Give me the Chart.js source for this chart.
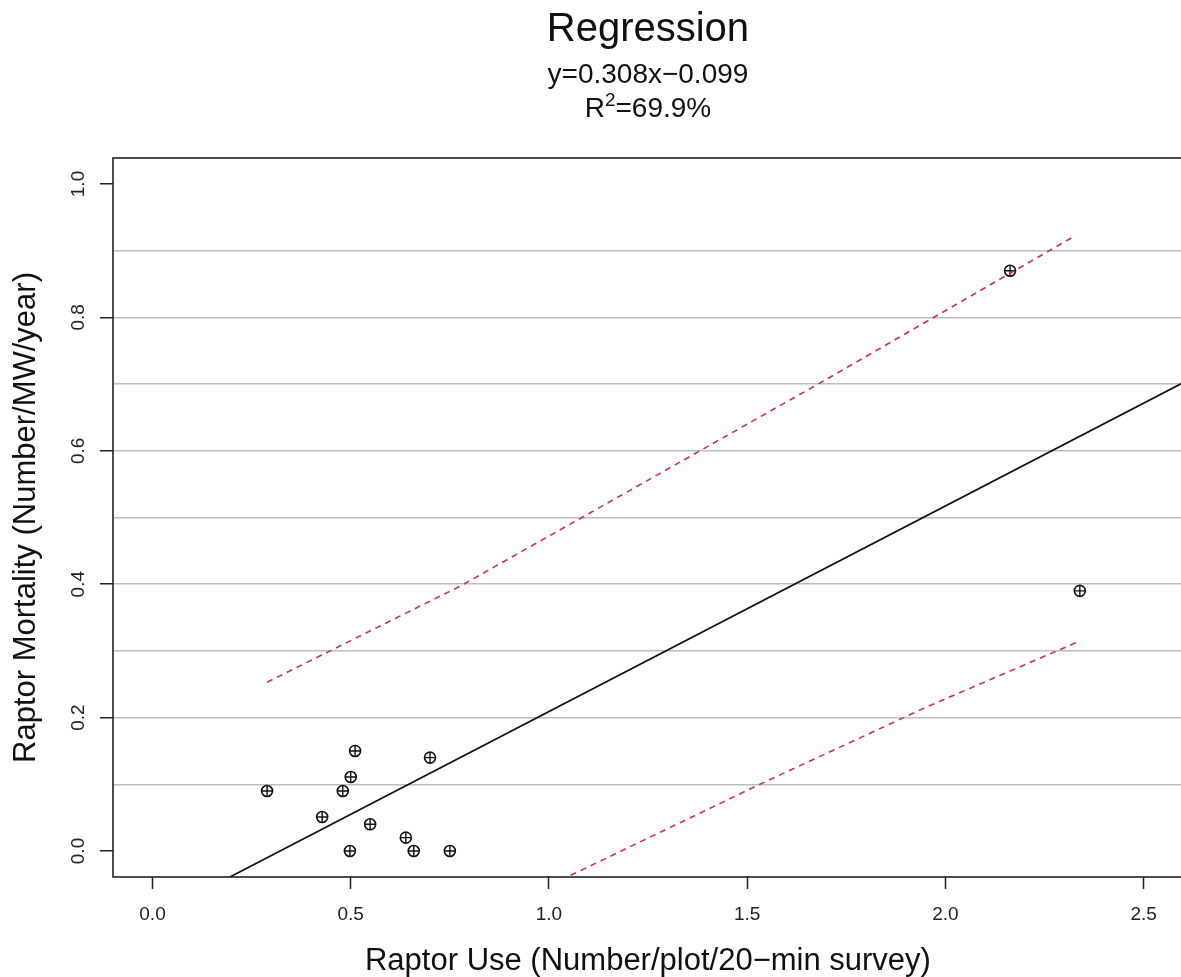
<!DOCTYPE html>
<html>
<head>
<meta charset="utf-8">
<title>Regression</title>
<script src="https://cdn.jsdelivr.net/npm/chart.js@4.4.1/dist/chart.umd.min.js"></script>
<style>
    html, body { margin: 0; padding: 0; background: #fff; overflow: hidden; }
    #wrap { width: 1190px; height: 977px; }
</style>
</head>
<body>
<div id="wrap"><canvas id="chart" width="1190" height="977"></canvas></div>
<script>
const raptorUse = [0.289, 0.511, 0.500, 0.480, 0.428, 0.549, 0.498, 0.700, 0.639, 0.659, 0.750, 2.163, 2.339];
const raptorMortality = [0.090, 0.150, 0.111, 0.090, 0.051, 0.040, 0.000, 0.140, 0.020, 0.000, 0.000, 0.870, 0.390];

// Fitted line y = 0.308x - 0.099 (end points, clipped by the plot area)
const fitX = [-0.1, 2.7];
const fitY = [-0.130, 0.733];

// Dashed interval bands
const upperX = [0.289, 0.776, 1.095, 1.381, 1.667, 2.000, 2.320];
const upperY = [0.253, 0.397, 0.504, 0.600, 0.696, 0.810, 0.920];
const lowerX = [0.290, 0.780, 1.053, 1.532, 1.953, 2.336];
const lowerY = [-0.270, -0.120, -0.037, 0.100, 0.216, 0.314];

// Tick labels
const xTickLabels = ['0.0', '0.5', '1.0', '1.5', '2.0', '2.5'];
const yTickLabels = ['0.0', '0.2', '0.4', '0.6', '0.8', '1.0'];

const titleText = 'Regression';
const equationText = 'y=0.308x\u22120.099';
const r2Parts = ['R', '2', '=69.9%'];
const xTitle = 'Raptor Use (Number/plot/20\u2212min survey)';
const yTitle = 'Raptor Mortality (Number/MW/year)';

const FONT = "'Liberation Sans', Arial, Helvetica, sans-serif";
const BAND_COLOR = '#cf2f5c';

function toPoints(xs, ys) {
    return xs.map((x, i) => ({ x: x, y: ys[i] }));
}

// Title, axis titles, y tick labels and frame (R style)
const rDecor = {
    id: 'rDecor',
    afterDraw(chart) {
        const ctx = chart.ctx;
        const area = chart.chartArea;
        const yScale = chart.scales.y;
        const cx = (area.left + area.right) / 2;

        ctx.save();
        ctx.fillStyle = '#111';
        ctx.textAlign = 'center';
        ctx.textBaseline = 'alphabetic';

        ctx.font = '40px ' + FONT;
        ctx.fillText(titleText, cx, 41);
        ctx.font = '28px ' + FONT;
        ctx.fillText(equationText, cx, 83);

        // R^2 line with a real superscript
        const big = '28px ' + FONT, small = '19px ' + FONT;
        ctx.font = big;
        const wR = ctx.measureText(r2Parts[0]).width;
        const wRest = ctx.measureText(r2Parts[2]).width;
        ctx.font = small;
        const w2 = ctx.measureText(r2Parts[1]).width;
        let px = cx - (wR + w2 + wRest) / 2;
        ctx.textAlign = 'left';
        ctx.font = big;
        ctx.fillText(r2Parts[0], px, 117);
        px += wR;
        ctx.font = small;
        ctx.fillText(r2Parts[1], px, 106);
        px += w2;
        ctx.font = big;
        ctx.fillText(r2Parts[2], px, 117);
        ctx.textAlign = 'center';

        ctx.font = '31px ' + FONT;
        ctx.fillText(xTitle, cx, 970);

        ctx.save();
        ctx.translate(35, (area.top + area.bottom) / 2);
        ctx.rotate(-Math.PI / 2);
        ctx.fillText(yTitle, 0, 0);
        ctx.restore();

        // y tick labels, rotated like R's default
        ctx.font = '19px ' + FONT;
        ctx.fillStyle = '#222';
        yTickLabels.forEach(label => {
            const py = yScale.getPixelForValue(parseFloat(label));
            ctx.save();
            ctx.translate(84, py);
            ctx.rotate(-Math.PI / 2);
            ctx.fillText(label, 0, 0);
            ctx.restore();
        });

        // plot frame
        ctx.strokeStyle = '#222';
        ctx.lineWidth = 1.6;
        ctx.strokeRect(area.left, area.top, area.right - area.left, area.bottom - area.top);
        ctx.restore();
    }
};

const isLabelled = v => Math.round(v * 10) % 2 === 0;

const ctx = document.getElementById('chart').getContext('2d');
const regressionChart = new Chart(ctx, {
    type: 'scatter',
    data: {
        datasets: [
            {
                label: 'fit',
                type: 'line',
                data: toPoints(fitX, fitY),
                borderColor: '#111',
                borderWidth: 1.7,
                pointRadius: 0,
                fill: false
            },
            {
                label: 'upper',
                type: 'line',
                data: toPoints(upperX, upperY),
                borderColor: BAND_COLOR,
                borderWidth: 1.6,
                borderDash: [6, 5],
                pointRadius: 0,
                tension: 0,
                fill: false
            },
            {
                label: 'lower',
                type: 'line',
                data: toPoints(lowerX, lowerY),
                borderColor: BAND_COLOR,
                borderWidth: 1.6,
                borderDash: [6, 5],
                pointRadius: 0,
                tension: 0,
                fill: false
            },
            {
                label: 'sites',
                data: toPoints(raptorUse, raptorMortality),
                pointStyle: 'circle',
                pointRadius: 5.5,
                borderColor: '#111',
                borderWidth: 1.6,
                backgroundColor: 'rgba(0,0,0,0)'
            },
            {
                label: 'sites-cross',
                data: toPoints(raptorUse, raptorMortality),
                pointStyle: 'cross',
                pointRadius: 5.5,
                borderColor: '#111',
                borderWidth: 1.4
            }
        ]
    },
    options: {
        responsive: false,
        animation: false,
        events: [],
        layout: { padding: { top: 158, left: 0, right: 7, bottom: 0 } },
        plugins: {
            legend: { display: false },
            tooltip: { enabled: false },
            title: { display: false }
        },
        scales: {
            x: {
                type: 'linear',
                min: -0.0996,
                max: 2.599,
                afterFit: s => { s.height = 100; },
                border: { display: false },
                grid: {
                    drawOnChartArea: false,
                    drawTicks: true,
                    tickLength: 12,
                    tickColor: '#222',
                    tickWidth: 1.5
                },
                ticks: {
                    stepSize: 0.5,
                    includeBounds: false,
                    autoSkip: false,
                    maxRotation: 0,
                    padding: 14,
                    color: '#222',
                    font: { family: FONT, size: 19 },
                    callback: (v) => xTickLabels.find(t => Math.abs(parseFloat(t) - v) < 1e-6) || ''
                }
            },
            y: {
                type: 'linear',
                min: -0.039,
                max: 1.039,
                afterFit: s => { s.width = 113; },
                border: { display: false },
                grid: {
                    color: c => (c.tick && c.tick.value > 0.05 && c.tick.value < 0.95) ? '#bdbdbd' : 'rgba(0,0,0,0)',
                    lineWidth: 1.5,
                    drawTicks: true,
                    tickLength: 13,
                    tickColor: c => (c.tick && isLabelled(c.tick.value)) ? '#222' : 'rgba(0,0,0,0)',
                    tickWidth: 1.5
                },
                ticks: {
                    stepSize: 0.1,
                    includeBounds: false,
                    display: false
                }
            }
        }
    },
    plugins: [rDecor]
});
</script>
</body>
</html>
